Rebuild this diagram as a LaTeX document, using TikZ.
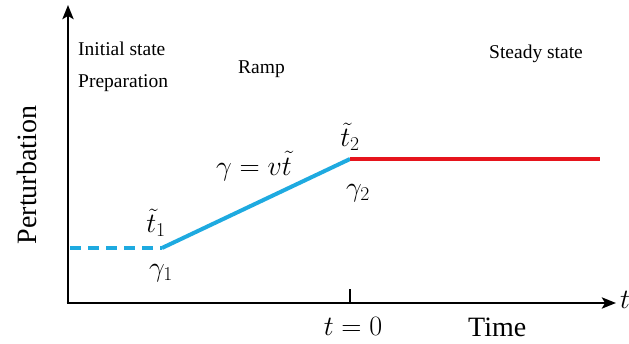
\RequirePackage{fix-cm}
\documentclass[tikz,border=0pt]{standalone}
\usepackage{fontspec}
\setmainfont{Liberation Serif}
\usetikzlibrary{arrows.meta}
\definecolor{rampblue}{RGB}{30,170,224}
\definecolor{steadyred}{RGB}{230,20,28}
\begin{document}
\begin{tikzpicture}[x=1pt,y=-1pt,
  axis/.style={line width=2.8pt,-{Stealth[length=14pt,width=11pt,inset=3pt]}},
  curve/.style={line width=4pt},
  small/.style={font=\fontsize{19.5}{22}\selectfont,inner sep=0pt},
  big/.style={font=\fontsize{28}{30}\selectfont,inner sep=0pt},
  mathlbl/.style={font=\fontsize{28}{30}\selectfont,inner sep=0pt}]
\useasboundingbox (0,0) rectangle (629,344);
\coordinate (O) at (68,303);
\coordinate (ytop) at (68,5);
\coordinate (xend) at (616,303);
\coordinate (p0) at (70,248);
\coordinate (p1) at (162,248);
\coordinate (p2) at (350,159);
\coordinate (p3) at (600,159);
\coordinate (tick) at (350,303);
\coordinate (tickTop) at (350,289);
% curves
\draw[curve,rampblue,dash pattern=on 11pt off 7pt] (p0) -- (p1);
\draw[curve,rampblue] (p1) -- (p2);
\draw[curve,steadyred] (p2) -- (p3);
% axes
\draw[axis] ([yshift=1.4pt]O) -- (ytop);
\draw[axis] ([xshift=-1.4pt]O) -- (xend);
\draw[line width=2pt] (tick) -- (tickTop);
% labels
\node[small,anchor=base west] (init) at (78,56) {Initial state};
\node[small,anchor=base west] (prep) at (78,88) {Preparation};
\node[small,anchor=base west] (ramp) at (238,74) {Ramp};
\node[small,anchor=base west] (steady) at (489,59) {Steady state};
\node[big,rotate=90] (pert) at (27,175) {Perturbation};
\node[big,anchor=base west] (time) at (468,337) {Time};
\node[mathlbl] (t0) at (353,326) {$t=0$};
\node[mathlbl] (tlab) at (625,300) {$t$};
\node[mathlbl] (eq) at (254,166) {$\gamma=v\tilde{t}$};
\node[mathlbl] (t1) at (156,223) {$\tilde{t}_1$};
\node[mathlbl] (g1) at (161,273) {$\gamma_1$};
\node[mathlbl] (t2) at (350,137) {$\tilde{t}_2$};
\node[mathlbl] (g2) at (358,193) {$\gamma_2$};
\end{tikzpicture}
\end{document}
